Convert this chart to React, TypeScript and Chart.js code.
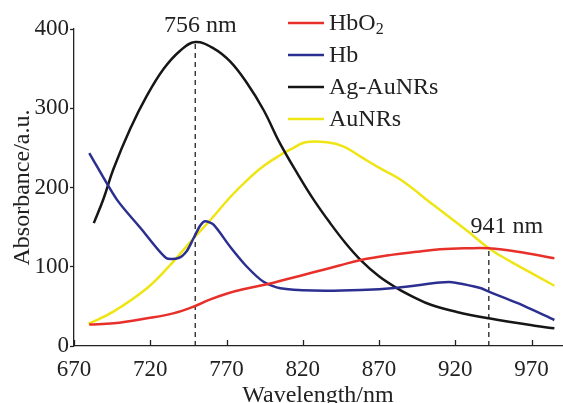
import React, { useEffect, useRef } from 'react';
import { Chart, registerables } from 'chart.js';

Chart.register(...registerables);

// ---- data ----
const seriesNames = ['HbO2', 'Hb', 'Ag-AuNRs', 'AuNRs'];
const seriesColors = ['#e8302a', '#2b2f90', '#161616', '#efe514'];

const hbo2Wavelengths = [680, 696, 718, 735, 749.5, 759, 770, 781, 798, 810, 827, 844, 858, 878, 895, 910, 928, 942, 961, 985];
const hbo2Values = [27, 28.6, 35, 41.2, 50.5, 58.5, 66, 71.5, 78.5, 84.5, 93, 101.5, 108.5, 115, 119, 122, 123.3, 123.3, 119, 110.6];

const hbWavelengths = [680, 698, 714, 730.4, 738.5, 744, 748.4, 752.8, 756, 761.5, 772.5, 783.4, 794.3, 805.3, 827, 858, 882, 910, 918, 924, 937, 942, 961, 985];
const hbValues = [243.5, 185, 148, 111, 111, 120, 136, 152, 157.5, 153, 125, 100, 81, 72.8, 70, 70.7, 73.6, 80, 80.5, 78.5, 72.8, 68.5, 54, 32.8];

const agWavelengths = [683, 689.3, 695.8, 706.8, 717.8, 728.7, 739.6, 749.5, 761.5, 772.5, 783.5, 794.3, 805, 817, 827, 838, 848, 858, 870, 882, 893, 904, 921, 942, 972, 985];
const agValues = [155, 185.5, 223, 273.8, 315.8, 349.5, 372.6, 383.5, 375.6, 358.8, 331.5, 297.8, 256, 216, 185, 155, 130, 108.5, 88, 72.8, 61.5, 52, 43, 35, 25.6, 22.3];

const auWavelengths = [679.5, 695.8, 717.8, 733, 748.4, 759, 772.5, 783.4, 794.3, 805.3, 812, 821.7, 836, 846.9, 857.9, 870, 884, 906, 928, 942, 950, 961, 985];
const auValues = [27.8, 43.3, 72.8, 102, 136, 158, 188, 209, 227, 241, 248, 257, 257, 251.5, 239, 225, 210, 177.5, 145, 123.3, 113.5, 101.5, 76];

const xTicks = [670, 720, 770, 820, 870, 920, 970];
const yTicks = [0, 100, 200, 300, 400];

const markerWavelengths = [749.5, 942];
const markerTops = [383.5, 123.3];
const markerLabels = ['756 nm', '941 nm'];

const FONT = '"Liberation Serif", "Times New Roman", serif';
const TEXT = '#222222';
const AXIS = '#222222';

const toPoints = (xs: number[], ys: number[]) => xs.map((x, i) => ({ x, y: ys[i] }));

const overlayPlugin = {
  id: 'overlay',
  afterDraw(chart: any) {
    const { ctx, chartArea, scales } = chart;
    const x = scales.x;
    const y = scales.y;
    ctx.save();
    // inward x tick marks
    ctx.strokeStyle = AXIS;
    ctx.lineWidth = 1.3;
    xTicks.forEach((v) => {
      const px = Math.round(x.getPixelForValue(v)) + 0.5;
      ctx.beginPath();
      ctx.moveTo(px, chartArea.bottom);
      ctx.lineTo(px, chartArea.bottom - 6);
      ctx.stroke();
    });
    // marker labels
    ctx.fillStyle = TEXT;
    ctx.font = `24px ${FONT}`;
    ctx.textAlign = 'center';
    ctx.textBaseline = 'middle';
    const offs = [
      [5, -16],
      [18, -22],
    ];
    markerLabels.forEach((t, i) => {
      const px = x.getPixelForValue(markerWavelengths[i]);
      const py = y.getPixelForValue(markerTops[i]);
      ctx.fillText(t, px + offs[i][0], py + offs[i][1]);
    });
    // legend
    const lx0 = 288;
    const lx1 = 324;
    const tx = 329;
    const y0 = 23;
    const dy = 32;
    ctx.textAlign = 'left';
    seriesNames.forEach((name, i) => {
      const ly = y0 + i * dy;
      ctx.strokeStyle = seriesColors[i];
      ctx.lineWidth = 2.5;
      ctx.beginPath();
      ctx.moveTo(lx0, ly);
      ctx.lineTo(lx1, ly);
      ctx.stroke();
      ctx.fillStyle = TEXT;
      const m = name.match(/^(.*?)(\d)$/);
      if (m) {
        ctx.font = `24px ${FONT}`;
        ctx.fillText(m[1], tx, ly + 1);
        const w = ctx.measureText(m[1]).width;
        ctx.font = `16px ${FONT}`;
        ctx.fillText(m[2], tx + w, ly + 7);
      } else {
        ctx.font = `24px ${FONT}`;
        ctx.fillText(name, tx, ly + 1);
      }
    });
    ctx.restore();
  },
};

export default function App() {
  const ref = useRef<HTMLCanvasElement | null>(null);
  useEffect(() => {
    if (!ref.current) return;
    const seriesData = [
      toPoints(hbo2Wavelengths, hbo2Values),
      toPoints(hbWavelengths, hbValues),
      toPoints(agWavelengths, agValues),
      toPoints(auWavelengths, auValues),
    ];
    const datasets: any[] = seriesNames.map((name, i) => ({
      label: name,
      data: seriesData[i],
      borderColor: seriesColors[i],
      backgroundColor: seriesColors[i],
      borderWidth: 2.5,
      pointRadius: 0,
      tension: i === 1 ? 0.25 : 0.4,
      fill: false,
    }));
    markerWavelengths.forEach((w, i) => {
      datasets.push({
        label: 'marker' + i,
        data: [
          { x: w, y: 0 },
          { x: w, y: markerTops[i] },
        ],
        borderColor: AXIS,
        borderWidth: 1.3,
        borderDash: [5, 4],
        pointRadius: 0,
        tension: 0,
        fill: false,
      });
    });
    const chart = new Chart(ref.current, {
      type: 'line',
      data: { datasets },
      options: {
        responsive: false,
        animation: false,
        devicePixelRatio: 1,
        layout: { padding: { top: 29, right: 1, left: 0, bottom: 0 } },
        plugins: { legend: { display: false }, tooltip: { enabled: false } },
        scales: {
          x: {
            type: 'linear',
            min: 670,
            max: 990,
            position: 'bottom',
            afterFit: (s: any) => {
              s.height = 57;
            },
            afterBuildTicks: (s: any) => {
              s.ticks = xTicks.map((v) => ({ value: v }));
            },
            grid: { display: true, drawOnChartArea: false, drawTicks: false },
            border: { display: true, color: AXIS, width: 1.3 },
            ticks: {
              font: { family: FONT, size: 23 },
              color: TEXT,
              padding: 10,
              maxRotation: 0,
              autoSkip: false,
            },
            title: {
              display: true,
              text: 'Wavelength/nm',
              font: { family: FONT, size: 24 },
              color: TEXT,
              padding: { top: 0, bottom: -7 },
            },
          },
          y: {
            type: 'linear',
            min: 0,
            max: 400,
            afterFit: (s: any) => {
              s.width = 74;
            },
            afterBuildTicks: (s: any) => {
              s.ticks = yTicks.map((v) => ({ value: v }));
            },
            grid: {
              display: true,
              drawOnChartArea: false,
              drawTicks: true,
              tickLength: 4,
              tickColor: AXIS,
              tickWidth: 1.3,
            },
            border: { display: true, color: AXIS, width: 1.3 },
            ticks: {
              font: { family: FONT, size: 23 },
              color: TEXT,
              padding: 1,
              autoSkip: false,
            },
            title: {
              display: true,
              text: 'Absorbance/a.u.',
              font: { family: FONT, size: 24 },
              color: TEXT,
              padding: { top: 8, bottom: 0 },
            },
          },
        },
      },
      plugins: [overlayPlugin],
    } as any);
    return () => chart.destroy();
  }, []);
  return (
    <div style={{ position: 'fixed', left: 0, top: 0, width: 563, height: 403, background: '#fff' }}>
      <canvas ref={ref} width={563} height={403} style={{ width: 563, height: 403, display: 'block' }} />
    </div>
  );
}
